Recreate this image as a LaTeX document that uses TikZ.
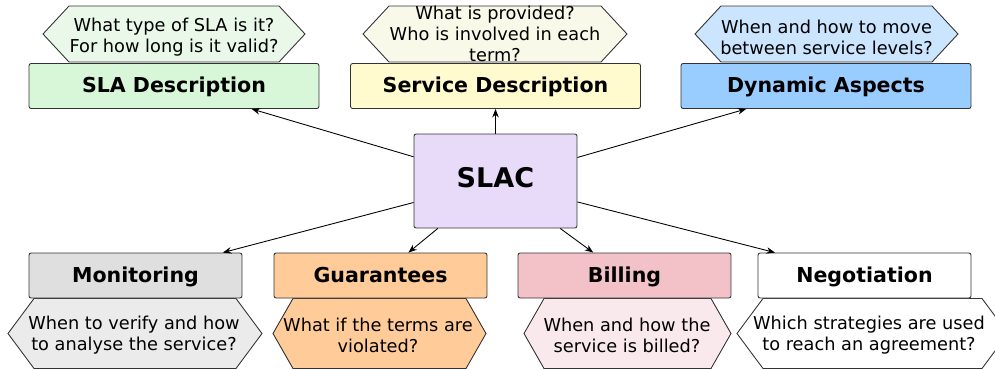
\documentclass[tikz,border=0pt]{standalone}
\usepackage{fontspec}
\setmainfont{DejaVu Sans}
\usetikzlibrary{arrows.meta,backgrounds}

\definecolor{slabox}{HTML}{D8F6D8}
\definecolor{slaq}{HTML}{EAF8EA}
\definecolor{servicebox}{HTML}{FFFBCF}
\definecolor{serviceq}{HTML}{F9F9EA}
\definecolor{dynamicbox}{HTML}{99CCFF}
\definecolor{dynamicq}{HTML}{CCE5FF}
\definecolor{slacbox}{HTML}{E8DAF9}
\definecolor{monitorbox}{HTML}{E0DFE0}
\definecolor{monitorq}{HTML}{EBEBEB}
\definecolor{guaranteebox}{HTML}{FFCC99}
\definecolor{billingbox}{HTML}{F2C2C8}
\definecolor{billingq}{HTML}{FAE9EC}
\definecolor{edge}{HTML}{333333}

\begin{document}
\begin{tikzpicture}[x=0.02cm,y=-0.02cm,
  topic/.style={draw=edge,line width=0.5pt,rounded corners=1.2pt,
    minimum height=0.9cm,text height=0.98em,text depth=0.2em,
    font=\fontsize{11.7}{14}\selectfont\bfseries},
  wide/.style={topic,minimum width=5.8cm},
  narrow/.style={topic,minimum width=4.26cm},
  question/.style={align=center,inner sep=0pt,font=\fontsize{10.1}{12}\selectfont},
  hexline/.style={draw=edge,line width=0.5pt},
  arr/.style={-{Stealth[length=1.7mm,width=1.3mm]},line width=0.5pt}]
  \useasboundingbox (0,0) rectangle (995,369);
  \clip (0,0) rectangle (995,369);

  % questions
  \node[question] (qsla) at (174,37) {What type of SLA is it?\\For how long is it valid?};
  \node[question] (qservice) at (495,33.5) {What is provided?\\Who is involved in each\\term?};
  \node[question] (qdynamic) at (826.5,37) {When and how to move\\between service levels?};
  \node[question] (qmonitoring) at (134,335.5) {When to verify and how\\to analyse the service?};
  \node[question] (qguarantees) at (378,335.5) {What if the terms are\\violated?};
  \node[question] (qbilling) at (627,335.5) {When and how the\\service is billed?};
  \node[question] (qnegotiation) at (869,335.5) {Which strategies are used\\to reach an agreement?};

  \begin{scope}[on background layer]
    \foreach \q/\col/\cx/\cy/\w/\h/\i in {
        qsla/slaq/174/34/131/28/26,
        qservice/serviceq/495/34/132/28/26,
        qdynamic/dynamicq/826.5/34/131.5/28/26,
        qmonitoring/monitorq/135/333.5/127/35/26,
        qguarantees/guaranteebox/379.5/333.5/106.5/35/20,
        qbilling/billingq/627.5/333.5/103.5/35/20,
        qnegotiation/white/872.5/333.5/135.5/35/26}
      \draw[hexline,fill=\col] (\cx,\cy) ++(-\w,0) -- ++(\i,-\h) -- ++({2*(\w-\i)},0)
        -- ++(\i,\h) -- ++(-\i,\h) -- ++({-2*(\w-\i)},0) -- cycle;
  \end{scope}

  % topics
  \node[wide,fill=slabox] (sla) at (174,86) {SLA Description};
  \node[wide,fill=servicebox] (service) at (495.5,86) {Service Description};
  \node[wide,fill=dynamicbox] (dynamic) at (826,86) {Dynamic Aspects};
  \node[topic,fill=slacbox,minimum width=3.26cm,minimum height=1.88cm,
    font=\fontsize{15.4}{18}\selectfont\bfseries] (slac) at (495.5,181) {SLAC};
  \node[narrow,fill=monitorbox] (monitoring) at (135.5,275.5) {Monitoring};
  \node[narrow,fill=guaranteebox] (guarantees) at (380.5,275.5) {Guarantees};
  \node[narrow,fill=billingbox] (billing) at (624.5,275.5) {Billing};
  \node[narrow,fill=white] (negotiation) at (864.5,275.5) {Negotiation};

  \foreach \t in {sla,service,dynamic,monitoring,guarantees,billing,negotiation}
    \draw[arr] (slac) -- (\t);
\end{tikzpicture}
\end{document}
